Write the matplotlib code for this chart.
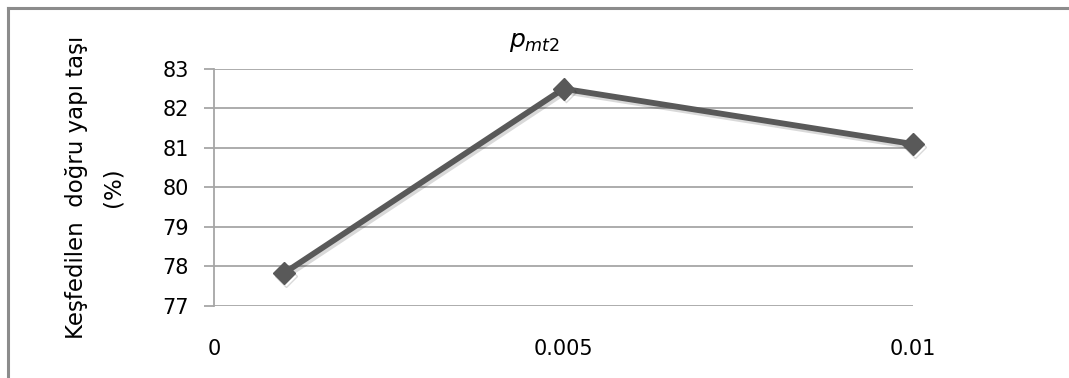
import matplotlib.pyplot as plt
import matplotlib.patheffects as pe
from matplotlib.lines import Line2D

# mutation probability p_mt2 vs. share of correctly found building blocks
p_mt2 = [0.001, 0.005, 0.01]
dogru_yuzde = [77.83, 82.5, 81.1]
y_ticks = [77, 78, 79, 80, 81, 82, 83]
x_ticks = [0, 0.005, 0.01]
x_labels = ["0", "0.005", "0.01"]

plt.rcParams['font.family'] = ['DejaVu Sans']

fig = plt.figure(figsize=(10.69, 3.78), dpi=100)
ax = fig.add_axes([214 / 1069, 1 - 306 / 378, (913 - 214) / 1069, (306 - 69) / 378])

ax.plot(p_mt2, dogru_yuzde, color="#595959", lw=4.2, marker="D", ms=11,
        mfc="#595959", mec="#595959", clip_on=False, zorder=3,
        path_effects=[pe.SimpleLineShadow(offset=(1.5, -2), shadow_color="#000000", alpha=0.15),
                      pe.Normal()])

ax.set_xlim(0, 0.01)
ax.set_ylim(77, 83)
ax.set_yticks(y_ticks)
ax.set_xticks(x_ticks)
ax.set_xticklabels(x_labels)
ax.yaxis.grid(True, color="#a6a6a6", lw=1.3)
ax.set_axisbelow(True)

for s in ["top", "right", "bottom"]:
    ax.spines[s].set_visible(False)
ax.spines["left"].set_color("#a6a6a6")
ax.spines["left"].set_linewidth(1.3)

ax.tick_params(axis="y", length=7, width=1.3, color="#a6a6a6", pad=11, labelsize=15)
ax.tick_params(axis="x", length=0, pad=24, labelsize=15)

ax.set_title(r"$\mathit{p}_{\mathit{mt2}}$", fontsize=18, pad=16, x=0.458)
ax.set_ylabel("Keşfedilen  doğru yapı taşı\n(%)", fontsize=16.5, labelpad=27, linespacing=1.75)

# outer frame of the chart area
fig.add_artist(Line2D([8 / 1069, 8 / 1069], [0, 1 - 8 / 378], color="#8c8c8c", lw=2.2,
                      transform=fig.transFigure))
fig.add_artist(Line2D([8 / 1069, 1], [1 - 8 / 378, 1 - 8 / 378], color="#8c8c8c", lw=2.2,
                      transform=fig.transFigure))

fig.savefig("out.png", dpi=100)
